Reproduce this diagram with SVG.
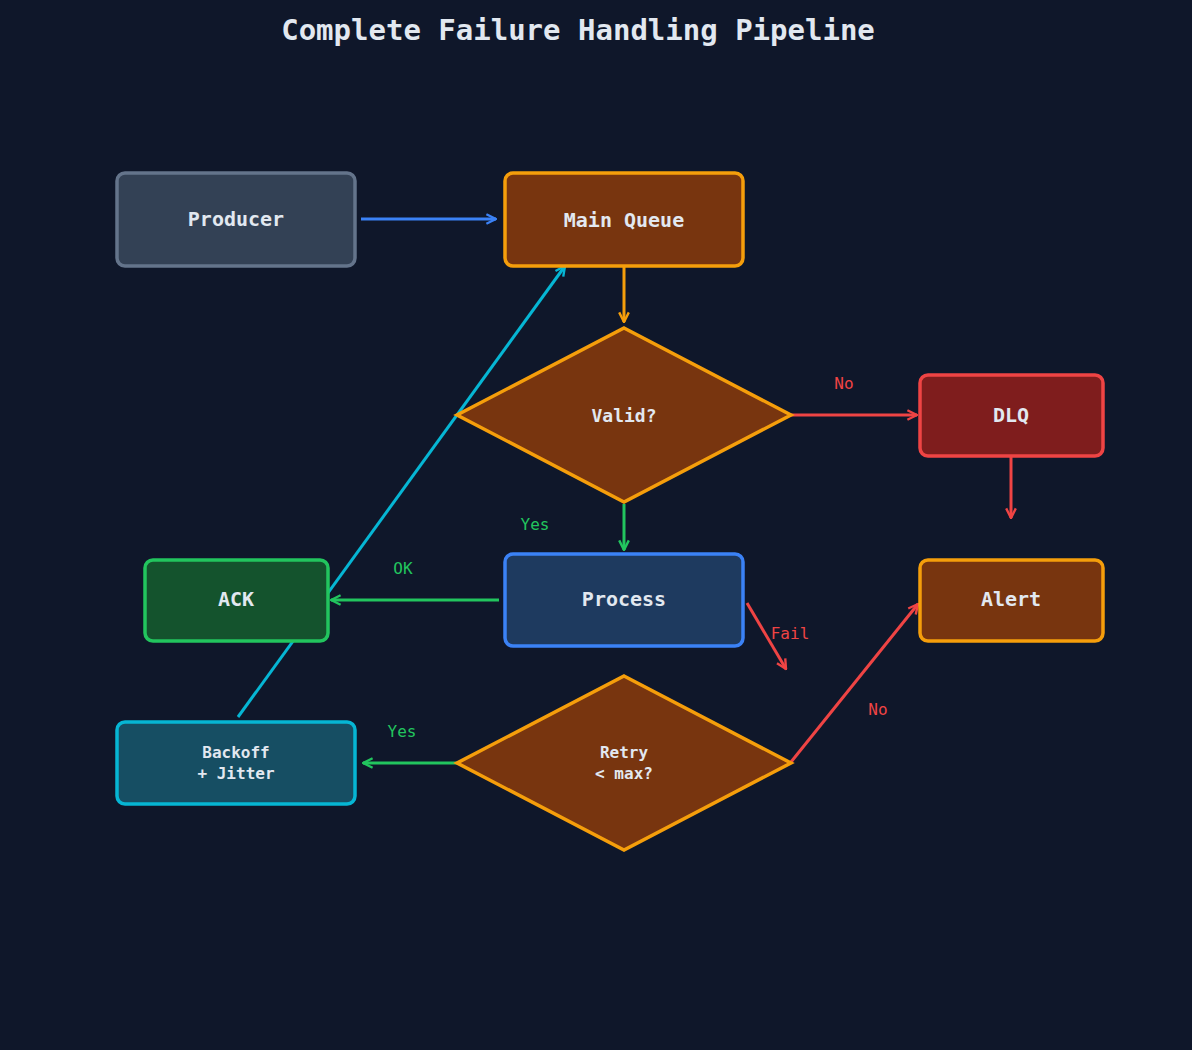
<svg xmlns="http://www.w3.org/2000/svg" width="1192" height="1050" viewBox="0 0 1192 1050">
<style>
text{font-family:"DejaVu Sans Mono","Liberation Mono",monospace;text-anchor:middle;dominant-baseline:central}
.n{font-weight:bold;font-size:20px;fill:#e2e8f0}
.s{font-weight:bold;font-size:16px;fill:#e2e8f0}
.l{font-size:16px}
.b{stroke-width:3.5}
line{stroke-width:3}
</style>
<defs>
<marker id="a" viewBox="0 0 10 10" refX="9" refY="5" markerWidth="4" markerHeight="4" orient="auto"><path d="M1,1 L9,5 L1,9" fill="none" stroke="context-stroke" stroke-width="2"/></marker>
</defs>
<rect width="1192" height="1050" fill="#0f172a"/>
<text x="578" y="30" style="font-size:29px;font-weight:bold;fill:#e2e8f0">Complete Failure Handling Pipeline</text>
<g id="connectors" fill="none">
<line x1="361" y1="219" x2="496" y2="219" stroke="#3b82f6" marker-end="url(#a)"/>
<line x1="624" y1="266" x2="624" y2="322" stroke="#f59e0b" marker-end="url(#a)"/>
<line x1="791" y1="415" x2="917" y2="415" stroke="#ef4444" marker-end="url(#a)"/>
<line x1="1011" y1="456" x2="1011" y2="518" stroke="#ef4444" marker-end="url(#a)"/>
<line x1="624" y1="504" x2="624" y2="550" stroke="#22c55e" marker-end="url(#a)"/>
<line x1="499" y1="600" x2="331" y2="600" stroke="#22c55e" marker-end="url(#a)"/>
<line x1="747" y1="603" x2="786" y2="669" stroke="#ef4444" marker-end="url(#a)"/>
<line x1="791" y1="762" x2="918" y2="604" stroke="#ef4444" marker-end="url(#a)"/>
<line x1="457" y1="763" x2="363" y2="763" stroke="#22c55e" marker-end="url(#a)"/>
<line x1="238" y1="717" x2="565" y2="266" stroke="#06b6d4" stroke-width="2.5" marker-end="url(#a)"/>
<text x="844" y="383" class="l" fill="#ef4444">No</text>
<text x="535" y="524" class="l" fill="#22c55e">Yes</text>
<text x="403" y="568" class="l" fill="#22c55e">OK</text>
<text x="790" y="633" class="l" fill="#ef4444">Fail</text>
<text x="878" y="709" class="l" fill="#ef4444">No</text>
<text x="402" y="731" class="l" fill="#22c55e">Yes</text>
</g>
<g id="producer"><rect x="117" y="173" width="238" height="93" rx="8" fill="#334155" stroke="#64748b" class="b"/><text x="236" y="219" class="n">Producer</text></g>
<g id="mainqueue"><rect x="505" y="173" width="238" height="93" rx="8" fill="#78350f" stroke="#f59e0b" class="b"/><text x="624" y="220" class="n">Main Queue</text></g>
<g id="valid"><polygon points="624,328 791,415 624,502 457,415" fill="#78350f" stroke="#f59e0b" class="b"/><text x="624" y="415" class="s" style="font-size:18px">Valid?</text></g>
<g id="dlq"><rect x="920" y="375" width="183" height="81" rx="8" fill="#7f1d1d" stroke="#ef4444" class="b"/><text x="1011" y="415" class="n">DLQ</text></g>
<g id="process"><rect x="505" y="554" width="238" height="92" rx="8" fill="#1e3a5f" stroke="#3b82f6" class="b"/><text x="624" y="599" class="n">Process</text></g>
<g id="ack"><rect x="145" y="560" width="183" height="81" rx="8" fill="#14532d" stroke="#22c55e" class="b"/><text x="236" y="599" class="n">ACK</text></g>
<g id="alert"><rect x="920" y="560" width="183" height="81" rx="8" fill="#78350f" stroke="#f59e0b" class="b"/><text x="1011" y="599" class="n">Alert</text></g>
<g id="backoff"><rect x="117" y="722" width="238" height="82" rx="8" fill="#164e63" stroke="#06b6d4" class="b"/><text x="236" y="752" class="s">Backoff</text><text x="236" y="773" class="s">+ Jitter</text></g>
<g id="retry"><polygon points="624,676 791,763 624,850 457,763" fill="#78350f" stroke="#f59e0b" class="b"/><text x="624" y="752" class="s">Retry</text><text x="624" y="773" class="s">&lt; max?</text></g>
</svg>
